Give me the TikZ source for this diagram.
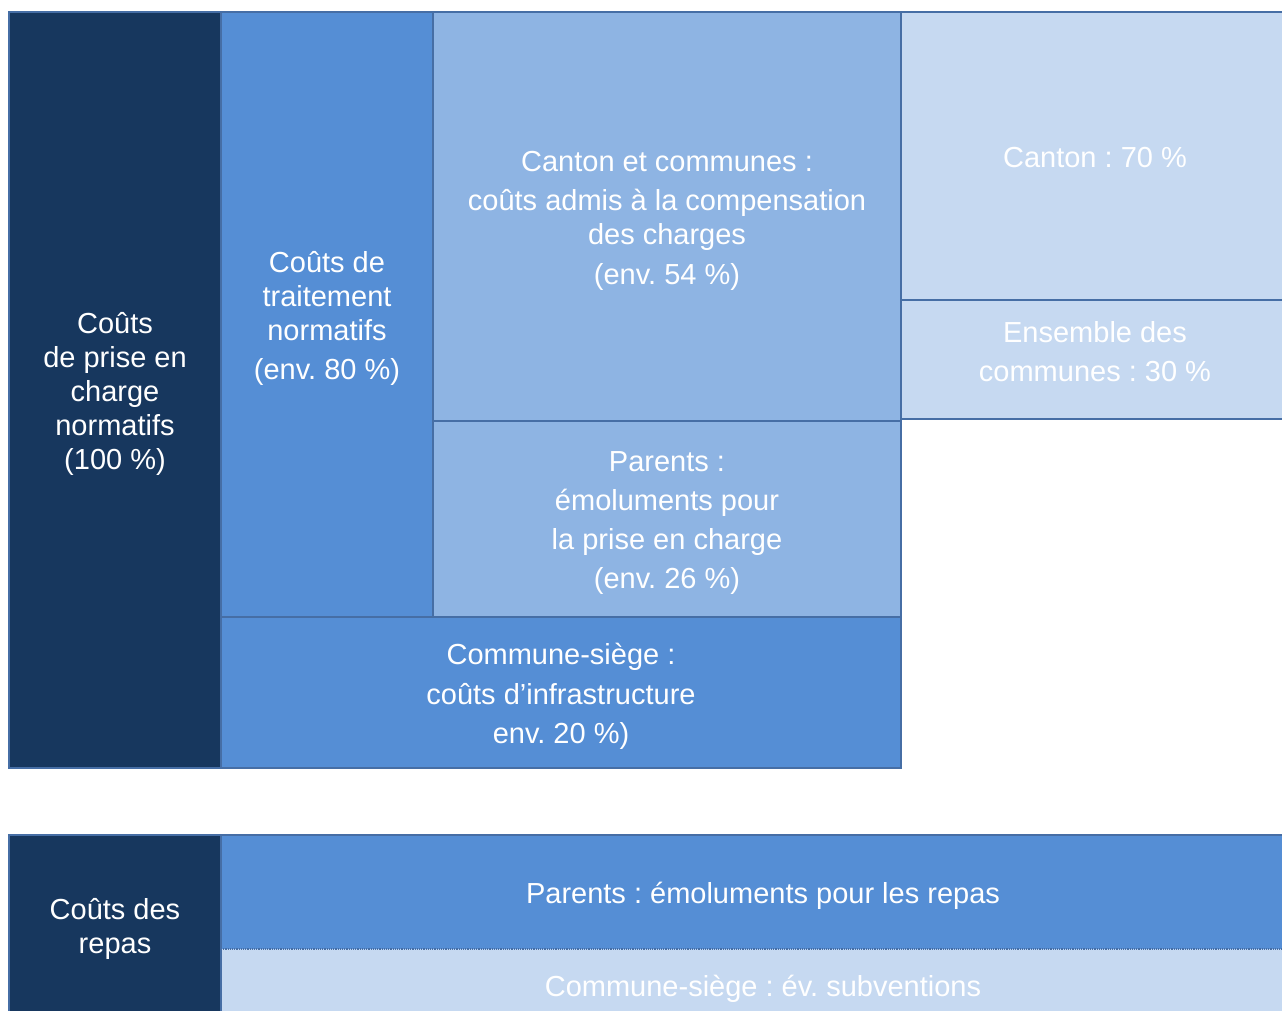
\documentclass[tikz,border=0pt]{standalone}
\usepackage{fontspec}
\setmainfont{Liberation Sans}
\frenchspacing
\usetikzlibrary{positioning}
\definecolor{navy}{RGB}{23,55,94}
\definecolor{mblue}{RGB}{85,142,213}
\definecolor{pblue}{RGB}{142,180,227}
\definecolor{lblue}{RGB}{198,217,241}
\definecolor{edge}{RGB}{70,110,165}
\tikzset{
  box/.style={draw=edge,line width=1.2pt,inner sep=0pt,outer sep=0pt,anchor=north west},
  boxtext/.style={align=center,text=white,inner sep=0pt,yshift=-4pt,
    font=\fontsize{29}{34}\selectfont},
  darkbox/.style={box,fill=navy},
  midbox/.style={box,fill=mblue},
  palebox/.style={box,fill=pblue},
  lightbox/.style={box,fill=lblue}
}
\begin{document}
\begin{tikzpicture}[x=1pt,y=1pt]
   \useasboundingbox (0,0) rectangle (1282,-1010);
   \clip (0,0) rectangle (1282,-1010);
   % upper block
   \node[darkbox,minimum width=212pt,minimum height=756pt,
      label={[boxtext]center:{Coûts\\de prise en\\charge\\normatifs\\(100 \%)}}] (cout) at (9,-12) {};
   \node[midbox,minimum width=212pt,minimum height=605pt,
      label={[boxtext]center:{Coûts de\\traitement\\normatifs\\[5pt](env. 80 \%)}}] (trait) at (cout.north east) {};
   \node[palebox,minimum width=468pt,minimum height=409pt,
      label={[boxtext]center:{Canton et communes :\\[5pt]coûts admis à la compensation\\des charges\\[6pt](env. 54 \%)}}] (cantcom) at (trait.north east) {};
   \node[palebox,minimum width=468pt,minimum height=196pt,
      label={[boxtext]center:{Parents :\\[5pt]émoluments pour\\[5pt]la prise en charge\\[5pt](env. 26 \%)}}] (parents) at (cantcom.south west) {};
   \node[midbox,minimum width=680pt,minimum height=151pt,
      label={[boxtext]center:{Commune-siège :\\[6pt]coûts d’infrastructure\\[5pt]env. 20 \%)}}] (infra) at (trait.south west) {};
   \node[lightbox,minimum width=388pt,minimum height=288pt,
      label={[boxtext,yshift=2pt]center:{Canton : 70 \%}}] (canton) at (cantcom.north east) {};
   \node[lightbox,minimum width=388pt,minimum height=119pt,
      label={[boxtext,yshift=12pt]center:{Ensemble des\\[5pt]communes : 30 \%}}] (ensemble) at (canton.south west) {};
   % lower block
   \node[darkbox,minimum width=212pt,minimum height=184pt,
      label={[boxtext,yshift=2pt]center:{Coûts des\\repas}}] (repas) at (9,-835) {};
   \node[midbox,draw=none,minimum width=1084pt,minimum height=114pt,
      label={[boxtext]center:{Parents : émoluments pour les repas}}] (emol) at (repas.north east) {};
   \node[lightbox,draw=none,minimum width=1084pt,minimum height=72pt,
      label={[boxtext]center:{Commune-siège : év. subventions}}] (subv) at (emol.south west) {};
   \draw[edge,line width=1.2pt] (emol.south west) |- (emol.north east);
   \draw[edge,line width=1.2pt] (subv.north west) -- (subv.south west);
   \draw[edge,line width=1.2pt,densely dotted] (subv.north west) -- (subv.north east);
\end{tikzpicture}
\end{document}
